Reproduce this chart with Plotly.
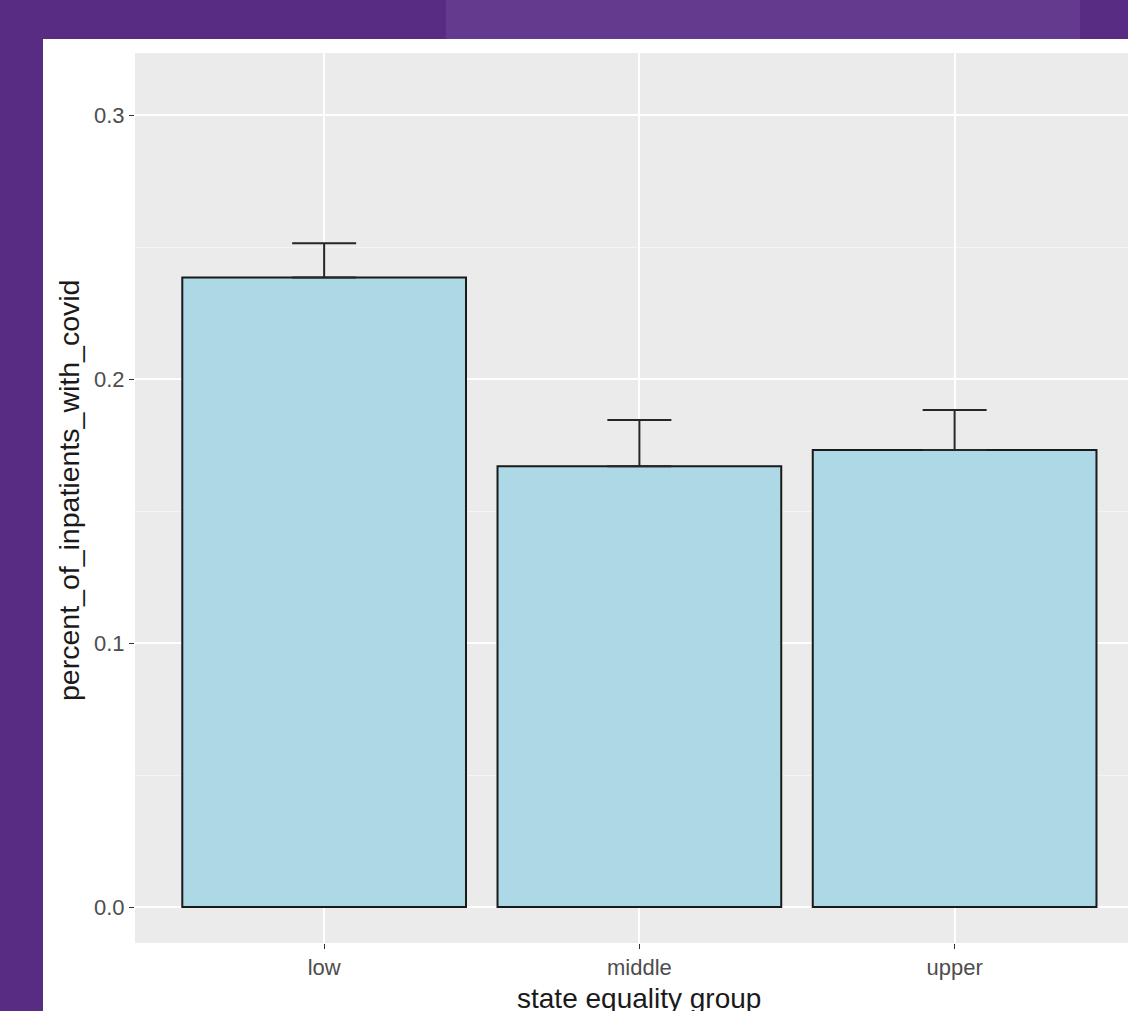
import plotly.graph_objects as go

categories = ["low", "middle", "upper"]
values = [0.2385, 0.167, 0.1731]
err_plus = [0.0129, 0.0175, 0.0152]
y_ticks = [0.0, 0.1, 0.2, 0.3]
y_tick_labels = ["0.0", "0.1", "0.2", "0.3"]
x_title = "state equality group"
y_title = "percent_of_inpatients_with_covid"

W, H = 1128, 1011
L, R, T, B = 135, 0, 53, 68
PW, PH = W - L - R, H - T - B

def px_x(p):
    return (p - L) / PW

def px_y(p):
    return (H - B - p) / PH

fig = go.Figure()
fig.add_trace(go.Bar(
    x=categories, y=values, width=0.9,
    marker=dict(color="#add8e6", line=dict(color="#1a1a1a", width=2)),
    error_y=dict(type="data", symmetric=False, array=err_plus,
                 arrayminus=[0] * len(err_plus), width=32,
                 thickness=2, color="#262626"),
))

purple = "#582c83"
fig.update_layout(
    width=W, height=H,
    margin=dict(l=L, r=R, t=T, b=B, pad=0),
    paper_bgcolor="white",
    plot_bgcolor="#ebebeb",
    showlegend=False,
    font=dict(family="Liberation Sans, Arial, sans-serif"),
    shapes=[
        # left purple strip
        dict(type="rect", xref="paper", yref="paper", layer="below",
             x0=px_x(0), x1=px_x(43), y0=px_y(H + 2), y1=px_y(0),
             fillcolor=purple, line=dict(width=0)),
        # top purple strip
        dict(type="rect", xref="paper", yref="paper", layer="below",
             x0=px_x(0), x1=px_x(W + 2), y0=px_y(39), y1=px_y(0),
             fillcolor=purple, line=dict(width=0)),
        # lighter tab at top
        dict(type="rect", xref="paper", yref="paper", layer="below",
             x0=px_x(446), x1=px_x(1080), y0=px_y(39), y1=px_y(0),
             fillcolor="#643a8e", line=dict(width=0)),
    ],
    xaxis=dict(
        range=[-0.6, 2.55], showgrid=True, gridcolor="white", gridwidth=2,
        ticks="outside", ticklen=5, tickcolor="#333333", tickwidth=1,
        tickfont=dict(size=22, color="#4d4d4d"), zeroline=False,
        showline=False,
    ),
    yaxis=dict(
        range=[-0.0136, 0.3235], tickvals=y_ticks, ticktext=y_tick_labels,
        showgrid=True, gridcolor="white", gridwidth=2, zeroline=False,
        ticks="outside", ticklen=5, tickcolor="#333333", tickwidth=1,
        tickfont=dict(size=22, color="#4d4d4d"),
        minor=dict(tick0=0, dtick=0.05, showgrid=True, gridcolor="#f4f4f4",
                   gridwidth=1, ticks=""),
    ),
    annotations=[
        dict(text=x_title, xref="x", yref="paper", x=1, y=0,
             xanchor="center", yanchor="middle", yshift=-55,
             showarrow=False, font=dict(size=28, color="#1a1a1a")),
        dict(text=y_title, xref="paper", yref="paper", x=0, y=0.5,
             xanchor="center", yanchor="middle", xshift=-66, yshift=7,
             textangle=-90, showarrow=False,
             font=dict(size=28.5, color="#1a1a1a")),
    ],
)

fig.write_html("out.html", config={"displayModeBar": False},
               post_script="document.body.style.margin='0';")
